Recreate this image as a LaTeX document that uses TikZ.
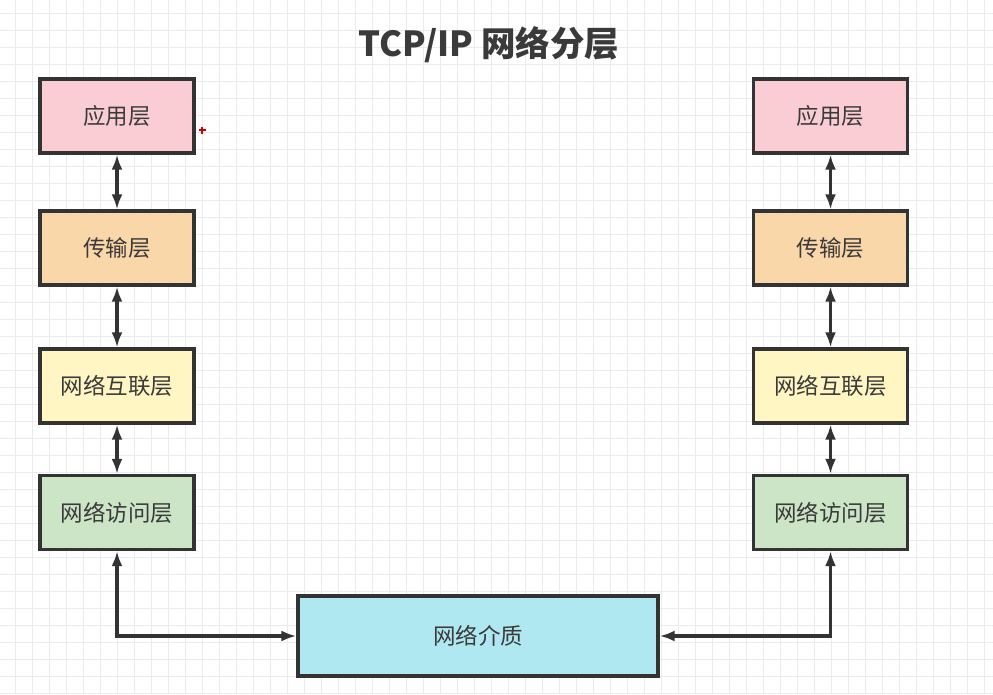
\documentclass[tikz,border=0pt]{standalone}
\usepackage{fontspec}
\setmainfont{Noto Sans CJK SC}
\usetikzlibrary{arrows.meta}
\definecolor{edge}{HTML}{333333}
\definecolor{txt}{HTML}{3A3A3A}
\definecolor{cpink}{HTML}{F9CDD3}
\definecolor{corange}{HTML}{FAD7A8}
\definecolor{cyellow}{HTML}{FFF6C4}
\definecolor{cgreen}{HTML}{CBE5C6}
\definecolor{ccyan}{HTML}{B0E8F2}
\tikzset{
  layer/.style={draw=edge, line width=3.3pt, minimum width=154pt, minimum height=74pt, inner sep=0pt, text=txt, font=\fontsize{22.5}{26}\selectfont},
  link/.style={draw=edge, line width=3.2pt, {Latex[length=15pt,width=11pt]}-{Latex[length=15pt,width=11pt]}}
}
\begin{document}
\begin{tikzpicture}[x=1pt,y=-1pt]
\useasboundingbox (0,0) rectangle (993,694);
\fill[white] (0,0) rectangle (993,694);
\foreach \gx in {15,32,...,993} \draw[black!8, line width=0.8pt] (\gx,0) -- (\gx,694);
\foreach \gy in {13,30,...,694} \draw[black!8, line width=0.8pt] (0,\gy) -- (993,\gy);

\node[text=txt, font=\fontsize{34.5}{40}\selectfont\bfseries] (title) at (489,45) {TCP/IP 网络分层};

\node[layer, fill=cpink]   (la) at (117,116) {应用层};
\node[layer, fill=corange] (lt) at (117,248) {传输层};
\node[layer, fill=cyellow] (li) at (117,386) {网络互联层};
\node[layer, fill=cgreen]  (ln) at (117,512.5) {网络访问层};

\node[layer, fill=cpink]   (ra) at (830.5,116) {应用层};
\node[layer, fill=corange] (rt) at (830.5,248) {传输层};
\node[layer, fill=cyellow] (ri) at (830.5,386) {网络互联层};
\node[layer, fill=cgreen]  (rn) at (830.5,512.5) {网络访问层};

\node[layer, fill=ccyan, minimum width=360pt, minimum height=80pt] (med) at (478,636) {网络介质};

\draw[link] (la) -- (lt);
\draw[link] (lt) -- (li);
\draw[link] (li) -- (ln);
\draw[link] (ra) -- (rt);
\draw[link] (rt) -- (ri);
\draw[link] (ri) -- (rn);
\draw[link] (ln.south) |- (med.west);
\draw[link] (rn.south) |- (med.east);

\draw[red!80!black, line width=1.4pt] (198.5,130) -- (205.5,130) (202,126.5) -- (202,133.5);
\end{tikzpicture}
\end{document}
